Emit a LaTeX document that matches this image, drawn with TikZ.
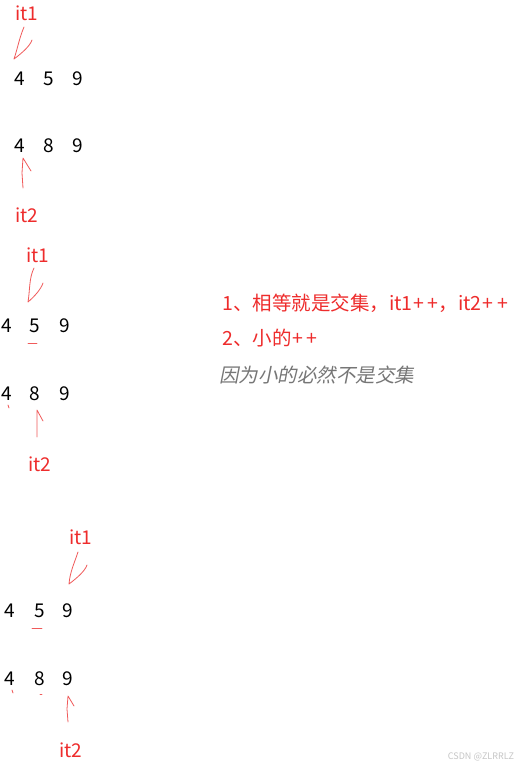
\documentclass[tikz,border=0pt]{standalone}
\usepackage{fontspec}
\setmainfont{Noto Sans CJK SC}
\newfontfamily\slantcjk[FakeSlant=0.2]{Noto Sans CJK SC}
\usepackage{xcolor}
\usetikzlibrary{positioning}
\usetikzlibrary{calc}
\definecolor{itred}{RGB}{238,44,44}
\definecolor{penred}{RGB}{240,90,90}
\definecolor{notegray}{RGB}{118,118,118}
\newcommand{\pp}{\kern1pt+\kern3.5pt+}

\begin{document}
\begin{tikzpicture}[x=1pt,y=-1pt,on grid,
every node/.style={inner sep=0pt},
	digit/.style={font=\fontsize{19}{19}\selectfont},
	iter/.style={font=\fontsize{19}{19}\selectfont, text=itred},
	pen/.style={draw=penred, line width=0.8pt, line cap=round, line join=round},
	note/.style={anchor=west, font=\fontsize{19.5}{19.5}\selectfont, text=itred},
	slantnote/.style={anchor=west, font=\slantcjk\fontsize{19.5}{19.5}\selectfont, text=notegray}]

  \fill[white] (0,0) rectangle (524,769);
  \useasboundingbox (0,0) rectangle (524,769);

  \node[digit] (a1) at (20,79) {4};
  \node[digit] (a2) [right=29pt of a1] {5};
  \node[digit] (a3) [right=29pt of a2] {9};
  \node[digit] (b1) [below=67pt of a1] {4};
  \node[digit] (b2) [right=29pt of b1] {8};
  \node[digit] (b3) [right=29pt of b2] {9};
  \node[iter] (p1) at (27,13) {it1};
  \node[iter] (q1) at (27,215) {it2};

  \node[digit] (c1) at (7,326) {4};
  \node[digit] (c2) [right=28pt of c1] {5};
  \node[digit] (c3) [right=30pt of c2] {9};
  \node[digit] (d1) [below=68pt of c1] {4};
  \node[digit] (d2) [right=28pt of d1] {8};
  \node[digit] (d3) [right=30pt of d2] {9};
  \node[iter] (p2) at (38,255) {it1};
  \node[iter] (q2) at (40,464) {it2};

  \node[digit] (e1) at (10,611) {4};
  \node[digit] (e2) [right=30pt of e1] {5};
  \node[digit] (e3) [right=28pt of e2] {9};
  \node[digit] (f1) [below=68pt of e1] {4};
  \node[digit] (f2) [right=30pt of f1] {8};
  \node[digit] (f3) [right=28pt of f2] {9};
  \node[iter] (p3) at (81,537) {it1};
  \node[iter] (q3) at (71,750) {it2};

  \coordinate (tail1) at (24,27);  \coordinate (tip1) at (14,59);
  \coordinate (tail2) at (23,188); \coordinate (tip2) at (23,158);
  \coordinate (tail3) at (34,268); \coordinate (tip3) at (28,302);
  \coordinate (tail4) at (37,437); \coordinate (tip4) at (37,410);
  \coordinate (tail5) at (78,552); \coordinate (tip5) at (69,584);
  \coordinate (tail6) at (68,722); \coordinate (tip6) at (68,696);

  \draw[pen] (tail1) .. controls +(-5,12) and +(4,-12) .. (tip1) .. controls +(8,-6) and +(-2,6) .. ++(18,-19);
  \draw[pen] (tail2) -- ++(-1,-15) -- (tip2) -- ++(8,13);
  \draw[pen] (tail3) .. controls +(-5,10) and +(2,-12) .. (tip3) .. controls +(7,-6) and +(-2,6) .. ++(15,-19);
  \draw[pen] (tail4) -- ++(0,-14) -- (tip4) -- ++(6,11);
  \draw[pen] (tail5) .. controls +(-4,12) and +(1,-12) .. (tip5) .. controls +(8,-6) and +(-2,6) .. ++(18,-19);
  \draw[pen] (tail6) -- ++(-1,-13) -- (tip6) -- ++(6,10);

  \draw[pen] ([shift={(-7,17)}]c2.center) -- ++(9,0);
  \draw[pen] ([shift={(1,11)}]d1.center) -- ++(1,3);
  \draw[pen] ([shift={(-8,17)}]e2.center) -- ++(10,0);
  \draw[pen] ([shift={(2,11)}]f1.center) -- ++(1,3);
  \draw[pen] ([shift={(0,15)}]f2.center) -- ++(2,0);

  \node[note] (n1) at (222,303) {1、相等就是交集，it1\pp，it2\pp};
  \node[note] (n2) at (222,338) {2、小的\pp};
  \node[slantnote] (n3) at (219,375) {因为小的必然不是交集};

  \node[text=gray!45, font=\fontsize{9}{9}\selectfont] (mark) at (481,757) {CSDN @ZLRRLZ};
\end{tikzpicture}
\end{document}
